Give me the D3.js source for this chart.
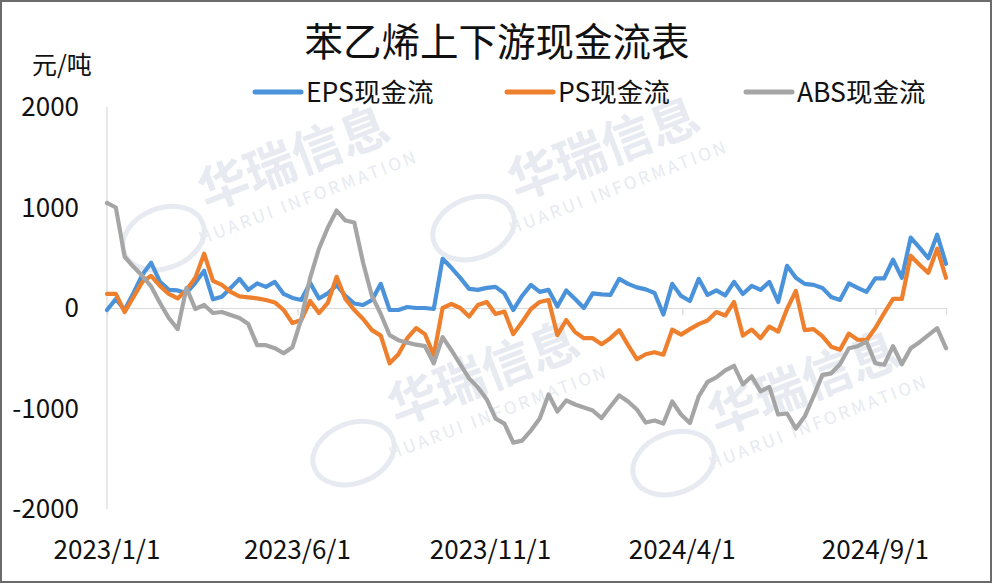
<!DOCTYPE html>
<html><head><meta charset="utf-8">
<script src="https://cdn.jsdelivr.net/npm/d3@7/dist/d3.min.js"></script>
<style>body{margin:0;background:#fff}svg{display:block}</style>
</head><body>
<script>
const title = "苯乙烯上下游现金流表";
const unitLabel = "元/吨";
const seriesNames = ["EPS现金流", "PS现金流", "ABS现金流"];
const seriesColors = ["#4A92DA", "#EE7F2D", "#A5A5A5"];
const startDate = "2023-01-01";
const xTickLabels = ["2023/1/1", "2023/6/1", "2023/11/1", "2024/4/1", "2024/9/1"];
const yTicks = [-2000, -1000, 0, 1000, 2000];

const eps = [-20,90,-20,150,330,450,260,180,175,150, 250,370,86,113,200,290,180,245,210,260,
  140,100,80,250,95,145,230,120,45,30, 80,240,-20,-20,10,0,0,-10,490,400,
  300,190,180,200,210,145,-20,120,230,160, 180,15,175,90,0,145,135,130,290,240,
  205,185,150,-65,240,120,70,290,130,175, 125,260,140,220,180,260,60,420,300,240,
  230,200,110,80,245,200,160,295,295,480, 300,700,600,495,730,440];
const ps = [140,140,-40,110,260,320,220,140,95,180, 300,540,270,230,160,115,105,96,80,55,
  -20,-150,-120,70,-50,50,310,90,-20,-110, -220,-275,-550,-460,-300,-200,-260,-470,0,40,
  0,-85,30,60,-60,-35,-260,-140,-10,60, 80,-270,-120,-240,-300,-300,-360,-300,-220,-370,
  -510,-460,-440,-465,-215,-265,-210,-160,-125,-40, -75,60,-275,-215,-300,-185,-235,-10,170,-220,
  -210,-280,-385,-415,-255,-315,-320,-200,-50,90, 90,520,430,350,590,300];
const abs = [1045,1000,510,410,320,215,50,-100,-210,200, -10,30,-50,-40,-70,-100,-160,-370,-370,-400,
  -450,-390,-110,300,590,800,970,870,850,450, 120,-60,-270,-320,-345,-365,-380,-550,-290,-420,
  -560,-700,-790,-910,-1100,-1150,-1340,-1320,-1220,-1100, -860,-1030,-920,-960,-990,-1020,-1095,-980,-870,-930,
  -1010,-1140,-1120,-1150,-930,-1060,-1145,-880,-735,-690, -620,-575,-760,-680,-830,-785,-1060,-1050,-1200,-1080,
  -880,-665,-650,-560,-400,-380,-335,-550,-565,-380, -560,-400,-340,-270,-200,-400];

const W = 994, H = 584;
const FONT = "'Noto Sans CJK SC', 'Noto Sans', sans-serif";
const parse = d3.timeParse("%Y-%m-%d");
const t0 = parse(startDate);
const dates = eps.map((_, i) => d3.timeDay.offset(t0, i * 7));
const tickDates = xTickLabels.map(s => d3.timeParse("%Y/%m/%d")(s));

const svg = d3.select("body").append("svg").attr("width", W).attr("height", H);
svg.append("rect").attr("x", 1).attr("y", 1).attr("width", 990).attr("height", 581)
  .attr("fill", "#fff").attr("stroke", "#6b6b6b").attr("stroke-width", 2);

const x = d3.scaleTime().domain([dates[0], dates[dates.length - 1]]).range([107, 946]);
const y = d3.scaleLinear().domain([-2000, 2000]).range([509, 107]);

// watermark
const wmColor = "#e7eaf0";
const wm = svg.append("g").attr("fill", wmColor).attr("font-family", FONT);
[[300, 175], [610, 165], [490, 390], [810, 400]].forEach(([cx, cy]) => {
  const g = wm.append("g").attr("transform", `translate(${cx},${cy}) rotate(-21)`);
  g.append("text").attr("text-anchor", "middle").attr("font-size", 50).attr("font-weight", 700).text("华瑞信息");
  g.append("text").attr("y", 30).attr("text-anchor", "middle").attr("font-size", 17).attr("letter-spacing", 3).text("HUARUI INFORMATION");
  g.append("ellipse").attr("cx", -150).attr("cy", 10).attr("rx", 42).attr("ry", 30)
    .attr("fill", "none").attr("stroke", wmColor).attr("stroke-width", 5);
});

// axes lines
svg.append("line").attr("x1", 107).attr("x2", 107).attr("y1", y(2000)).attr("y2", y(-2000))
  .attr("stroke", "#d9d9d9").attr("stroke-width", 1.2);
const xAxis = d3.axisBottom(x).tickValues(tickDates).tickSize(7).tickFormat("");
const gx = svg.append("g").attr("transform", `translate(0,${y(0)})`).call(xAxis);
gx.select(".domain").attr("stroke", "#d9d9d9").attr("stroke-width", 1.2);
gx.selectAll(".tick line").attr("stroke", "#d9d9d9").attr("stroke-width", 1.2);

// y labels
svg.append("g").selectAll("text").data(yTicks).join("text")
  .attr("x", 79).attr("y", d => y(d) + 9).attr("text-anchor", "end")
  .attr("font-family", FONT).attr("font-size", 26).attr("fill", "#111").text(d => d);

// x labels
svg.append("g").selectAll("text").data(tickDates).join("text")
  .attr("x", d => x(d)).attr("y", 559).attr("text-anchor", "middle")
  .attr("font-family", FONT).attr("font-size", 26).attr("fill", "#111")
  .text((d, i) => xTickLabels[i]);

// lines
const series = [eps, ps, abs];
const line = d3.line().x((d, i) => x(dates[i])).y(d => y(d));
series.forEach((s, k) => {
  svg.append("path").datum(s).attr("d", line).attr("fill", "none")
    .attr("stroke", seriesColors[k]).attr("stroke-width", 4.2)
    .attr("stroke-linejoin", "round").attr("stroke-linecap", "round");
});

// title
svg.append("text").attr("x", 497).attr("y", 56).attr("text-anchor", "middle")
  .attr("font-family", FONT).attr("font-size", 38.5).attr("fill", "#111").text(title);
svg.append("text").attr("x", 32).attr("y", 74)
  .attr("font-family", FONT).attr("font-size", 25).attr("fill", "#111").text(unitLabel);

// legend
const legX = [255, 507, 746];
seriesNames.forEach((n, k) => {
  svg.append("line").attr("x1", legX[k]).attr("x2", legX[k] + 46).attr("y1", 92).attr("y2", 92)
    .attr("stroke", seriesColors[k]).attr("stroke-width", 5).attr("stroke-linecap", "round");
  svg.append("text").attr("x", legX[k] + 51).attr("y", 101.5)
    .attr("font-family", FONT).attr("font-size", 26.5).attr("fill", "#111").text(n);
});
</script>
</body></html>
